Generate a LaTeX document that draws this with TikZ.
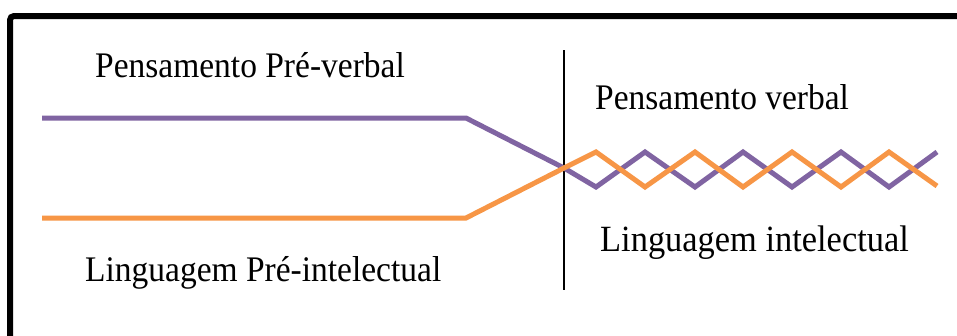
\documentclass[tikz,border=0pt]{standalone}
\usepackage{fontspec}
\setmainfont{Liberation Serif}[FakeStretch=0.93]
\definecolor{vpurple}{HTML}{8064A2}
\definecolor{vorange}{HTML}{F79646}
\begin{document}
\begin{tikzpicture}[x=1pt,y=-1pt,
  lbl/.style={font=\fontsize{36}{40}\selectfont, inner sep=0pt, anchor=base west},
  pline/.style={draw=vpurple, line width=5pt},
  oline/.style={draw=vorange, line width=5pt}]
\useasboundingbox (0,0) rectangle (957,335);
\clip (0,0) rectangle (957,335);
\fill[white] (0,0) rectangle (957,335);
\draw[line width=6pt, rounded corners=4pt] (10,400) -- (10,16) -- (1000,16);
% divider
\coordinate (vt) at (564,50);
\coordinate (vb) at (564,290);
\draw[line width=1.6pt] (vt) -- (vb);
% texts
\node[lbl] (t1) at (95,77) {Pensamento Pré-verbal};
\node[lbl] (t2) at (595,109) {Pensamento verbal};
\node[lbl, font=\fontsize{37}{40}\selectfont] (t3) at (600,251) {Linguagem intelectual};
\node[lbl] (t4) at (85,281) {Linguagem Pré-intelectual};
% lines
\coordinate (c) at (564,168);
\draw[pline] (42,118) -- (466,118) -- (c) -- (596,187) -- (645,152) -- (695,187) -- (743,152) -- (792,187) -- (841,152) -- (889,187) -- (937,152);
\draw[oline] (42,218) -- (466,218) -- (c) -- (596,152) -- (645,187) -- (695,152) -- (743,187) -- (792,152) -- (841,187) -- (889,152) -- (937,186);
\end{tikzpicture}
\end{document}
